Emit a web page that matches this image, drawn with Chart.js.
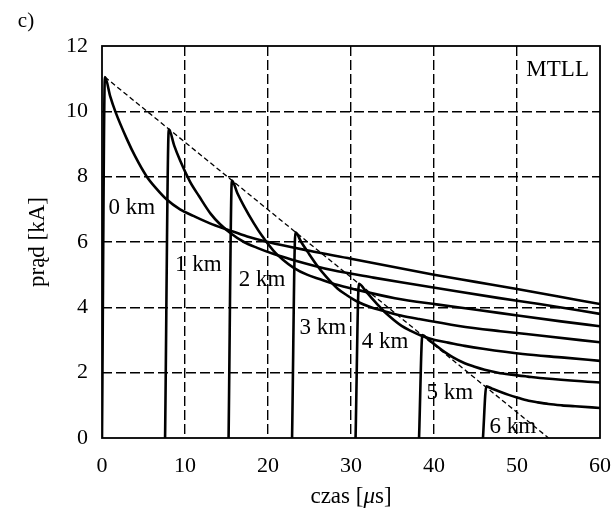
<!DOCTYPE html>
<html>
<head>
<meta charset="utf-8">
<script src="https://cdn.jsdelivr.net/npm/chart.js@4.4.4/dist/chart.umd.min.js"></script>
<style>
  html, body { margin: 0; padding: 0; background: #fff; overflow: hidden; }
  #c { display: block; }
</style>
</head>
<body>
<canvas id="c" width="615" height="517"></canvas>
<script>
// MTLL channel current at heights 0..6 km, time in µs, current in kA
const km0T = [0, 0.35, 1, 1.6, 3, 4, 5.4, 6.5, 7.8, 9.4, 11, 13, 15.2, 17.5, 20, 25, 30, 35, 40, 45, 50, 55, 60];
const km0I = [0, 11.05, 10.45, 10.0, 9.15, 8.62, 8.0, 7.65, 7.3, 7.0, 6.8, 6.57, 6.37, 6.17, 6.0, 5.73, 5.49, 5.24, 5.0, 4.78, 4.56, 4.33, 4.1];

const km1T = [7.6, 8.05, 8.7, 9.4, 10.6, 11.7, 13.1, 14.2, 15.5, 17.1, 18.7, 20.7, 22.9, 27.7, 32.7, 37.7, 42.7, 47.7, 52.7, 60];
const km1I = [0, 9.45, 8.95, 8.5, 7.85, 7.4, 6.86, 6.55, 6.27, 6.0, 5.82, 5.63, 5.46, 5.14, 4.91, 4.7, 4.49, 4.29, 4.1, 3.8];

const km2T = [15.25, 15.65, 16.3, 17.1, 18.3, 19.3, 20.7, 21.8, 23.1, 24.7, 26.3, 28.3, 30.5, 35.3, 40.3, 45.3, 50.3, 55.3, 60];
const km2I = [0, 7.88, 7.5, 7.1, 6.57, 6.18, 5.72, 5.46, 5.21, 5.0, 4.86, 4.69, 4.55, 4.28, 4.09, 3.92, 3.74, 3.57, 3.42];

const km3T = [22.9, 23.3, 24.0, 24.8, 26.0, 27.0, 28.4, 29.5, 30.8, 32.4, 34.0, 36.0, 38.2, 43.0, 48.0, 53.0, 60];
const km3I = [0, 6.3, 6.0, 5.69, 5.25, 4.94, 4.57, 4.37, 4.17, 4.0, 3.88, 3.75, 3.64, 3.43, 3.27, 3.13, 2.93];

const km4T = [30.55, 30.95, 31.7, 32.5, 33.7, 34.7, 36.1, 37.2, 38.5, 40.1, 41.7, 43.7, 45.9, 50.7, 55.7, 60];
const km4I = [0, 4.72, 4.52, 4.28, 3.95, 3.71, 3.43, 3.28, 3.13, 3.0, 2.92, 2.82, 2.73, 2.57, 2.46, 2.36];

const km5T = [38.2, 38.6, 39.3, 40.1, 41.3, 42.3, 43.7, 44.8, 46.1, 47.7, 49.3, 51.3, 53.5, 60];
const km5I = [0, 3.15, 3.02, 2.86, 2.63, 2.47, 2.29, 2.19, 2.09, 2.0, 1.94, 1.88, 1.82, 1.7];

const km6T = [45.9, 46.3, 47.0, 47.8, 49.0, 50.0, 51.4, 52.5, 53.8, 55.4, 57.0, 60];
const km6I = [0, 1.58, 1.51, 1.43, 1.32, 1.24, 1.14, 1.09, 1.04, 1.0, 0.97, 0.92];

// dashed envelope through the peaks
const envT = [0.35, 53.8];
const envI = [11.05, 0];

const xTicks = [0, 10, 20, 30, 40, 50, 60];
const yTicks = [0, 2, 4, 6, 8, 10, 12];

const curveLabels = ['0 km', '1 km', '2 km', '3 km', '4 km', '5 km', '6 km'];
const labelT = [3.6, 11.6, 19.3, 26.6, 34.1, 41.9, 49.5];
const labelI = [7.04, 5.3, 4.84, 3.37, 2.94, 1.38, 0.34];

const SERIF = '"Liberation Serif", "DejaVu Serif", serif';

function pts(ts, is) {
    return ts.map((t, i) => ({ x: t, y: is[i] }));
}

const curves = [[km0T, km0I], [km1T, km1I], [km2T, km2I], [km3T, km3I], [km4T, km4I], [km5T, km5I], [km6T, km6I]];

const datasets = curves.map(([ts, is], k) => ({
    label: curveLabels[k],
    data: pts(ts, is),
    borderColor: '#000',
    borderWidth: 2.6,
    pointRadius: 0,
    cubicInterpolationMode: 'monotone',
    fill: false,
}));
datasets.push({
    label: 'envelope',
    data: pts(envT, envI),
    borderColor: '#000',
    borderWidth: 1.3,
    borderDash: [5, 3],
    pointRadius: 0,
    tension: 0,
    fill: false,
});

// frame, panel letter, curve labels and axis titles
const decor = {
    id: 'decor',
    afterDatasetsDraw(chart) {
        const { ctx, chartArea: a, scales } = chart;
        const x = scales.x, y = scales.y;
        ctx.save();
        ctx.strokeStyle = '#000';
        ctx.lineWidth = 1.8;
        ctx.setLineDash([]);
        ctx.strokeRect(a.left, a.top, a.right - a.left, a.bottom - a.top);

        ctx.fillStyle = '#000';
        ctx.textAlign = 'center';
        ctx.textBaseline = 'middle';
        ctx.font = '23px ' + SERIF;
        curveLabels.forEach((txt, k) => {
            ctx.fillText(txt, x.getPixelForValue(labelT[k]), y.getPixelForValue(labelI[k]));
        });
        ctx.fillText('MTLL', x.getPixelForValue(54.9), y.getPixelForValue(11.26));

        ctx.font = '21px ' + SERIF;
        ctx.fillText('c)', 26, 21);

        // x title with italic mu
        const parts = [['czas [', 'normal'], ['\u03bc', 'italic'], ['s]', 'normal']];
        let total = 0;
        parts.forEach(([s, st]) => { ctx.font = st + ' 23px ' + SERIF; total += ctx.measureText(s).width; });
        let px = (a.left + a.right) / 2 - total / 2;
        const py = a.bottom + 59;
        ctx.textAlign = 'left';
        parts.forEach(([s, st]) => {
            ctx.font = st + ' 23px ' + SERIF;
            ctx.fillText(s, px, py);
            px += ctx.measureText(s).width;
        });

        ctx.translate(a.left - 64, (a.top + a.bottom) / 2);
        ctx.rotate(-Math.PI / 2);
        ctx.textAlign = 'center';
        ctx.font = '23px ' + SERIF;
        ctx.fillText('prąd [kA]', 0, 0);
        ctx.restore();
    },
};

const gridColor = (ctx) => {
    const v = ctx.tick ? ctx.tick.value : null;
    const s = ctx.scale;
    return (v === s.min || v === s.max) ? 'rgba(0,0,0,0)' : '#000';
};

new Chart(document.getElementById('c'), {
    type: 'line',
    data: { datasets },
    options: {
        responsive: false,
        animation: false,
        layout: { padding: { top: 46, right: 15, left: 0, bottom: 0 } },
        plugins: { legend: { display: false }, tooltip: { enabled: false } },
        scales: {
            x: {
                type: 'linear',
                min: 0,
                max: 60,
                afterBuildTicks(scale) { scale.ticks = xTicks.map((v) => ({ value: v })); },
                afterFit(scale) {
                    scale.height = 79;
                    // the last tick label may hang past the frame
                    scale.paddingLeft = 0;
                    scale.paddingRight = 0;
                },
                grid: { color: gridColor, lineWidth: 1.4, drawTicks: false },
                border: { display: false, dash: [10, 4] },
                ticks: { color: '#000', padding: 15, maxRotation: 0, font: { family: SERIF, size: 22 } },
            },
            y: {
                type: 'linear',
                min: 0,
                max: 12,
                afterBuildTicks(scale) { scale.ticks = yTicks.map((v) => ({ value: v })); },
                afterFit(scale) { scale.width = 102; },
                grid: { color: gridColor, lineWidth: 1.4, drawTicks: false },
                border: { display: false, dash: [10, 4] },
                ticks: { color: '#000', padding: 14, font: { family: SERIF, size: 22 } },
            },
        },
    },
    plugins: [decor],
});
</script>
</body>
</html>
